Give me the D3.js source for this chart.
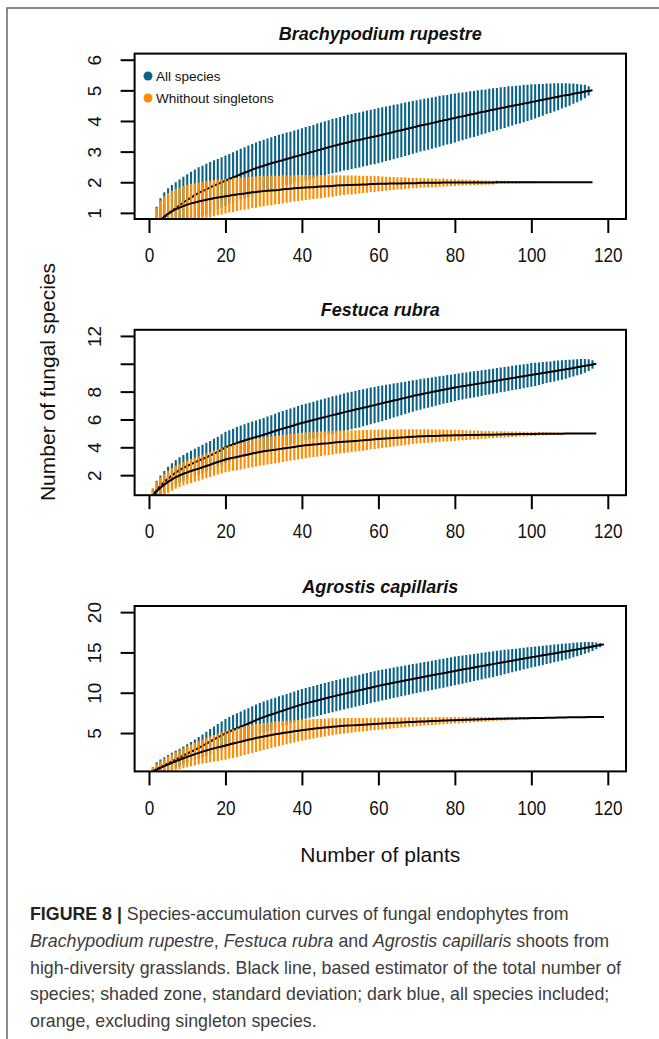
<!DOCTYPE html>
<html lang="en">
<head>
<meta charset="UTF-8">
<title>Species-accumulation curves</title>
<style>
  body { margin: 0; background: #fff; }
  svg { display: block; font-family: "Liberation Sans", Arial, sans-serif; }
</style>
</head>
<body>
<div id="chart"></div>
<script src="https://cdn.jsdelivr.net/npm/d3@7"></script>
<script>
// --- data ---
var panelTitles = ["Brachypodium rupestre", "Festuca rubra", "Agrostis capillaris"];
var seriesNames = ["All species", "Whithout singletons"];
var xTicks = [0, 20, 40, 60, 80, 100, 120];
var xLim = [1, 120];
var yLims = [[1, 6], [1, 12], [1, 20]];
var yTicks = [[1, 2, 3, 4, 5, 6], [2, 4, 6, 8, 10, 12], [5, 10, 15, 20]];
var yTickLabels = [["1", "2", "3", "4", "5", "6"], ["2", "4", "6", "8", "", "12"], ["5", "10", "15", "20"]];

// Brachypodium rupestre, plants 1..116
var brAllMean = [0.25,0.50,0.70,0.85,0.97,1.07,1.16,1.25,1.34,1.42,1.50,1.58,1.65,1.71,1.77,1.83,1.89,1.94,2.00,2.05,
  2.10,2.16,2.21,2.26,2.31,2.36,2.41,2.46,2.50,2.54,2.58,2.62,2.65,2.69,2.72,2.76,2.79,2.83,2.86,2.90,
  2.93,2.97,3.00,3.04,3.07,3.11,3.14,3.18,3.21,3.24,3.27,3.30,3.33,3.36,3.38,3.41,3.44,3.47,3.49,3.52,
  3.55,3.58,3.61,3.64,3.67,3.70,3.73,3.76,3.79,3.82,3.85,3.88,3.90,3.93,3.96,3.99,4.02,4.04,4.07,4.10,
  4.13,4.15,4.18,4.21,4.23,4.26,4.29,4.31,4.34,4.37,4.39,4.42,4.44,4.47,4.49,4.52,4.54,4.57,4.59,4.62,
  4.64,4.67,4.69,4.72,4.74,4.77,4.79,4.82,4.84,4.86,4.89,4.91,4.93,4.96,4.98,5.00];
var brAllSd = [0.45,0.70,0.78,0.82,0.83,0.84,0.84,0.84,0.84,0.84,0.84,0.84,0.84,0.83,0.83,0.83,0.83,0.82,0.82,0.82,
  0.82,0.82,0.83,0.83,0.83,0.84,0.84,0.84,0.85,0.85,0.85,0.85,0.86,0.86,0.86,0.86,0.86,0.86,0.86,0.86,
  0.87,0.87,0.87,0.88,0.88,0.88,0.88,0.89,0.89,0.89,0.89,0.90,0.90,0.90,0.90,0.90,0.90,0.90,0.90,0.90,
  0.90,0.89,0.89,0.89,0.88,0.88,0.87,0.87,0.86,0.86,0.85,0.85,0.84,0.84,0.83,0.83,0.82,0.81,0.81,0.80,
  0.79,0.78,0.77,0.76,0.75,0.74,0.73,0.72,0.71,0.70,0.69,0.68,0.67,0.66,0.64,0.63,0.62,0.61,0.59,0.58,
  0.56,0.54,0.52,0.50,0.48,0.46,0.44,0.41,0.39,0.36,0.33,0.30,0.26,0.22,0.15,0.00];
var brNoSingMean = [0.28,0.55,0.75,0.88,0.97,1.05,1.12,1.17,1.22,1.27,1.31,1.34,1.37,1.40,1.43,1.45,1.48,1.50,1.52,1.54,
  1.56,1.58,1.60,1.62,1.63,1.65,1.67,1.68,1.70,1.71,1.72,1.73,1.74,1.75,1.77,1.78,1.79,1.80,1.81,1.82,
  1.83,1.84,1.84,1.85,1.86,1.87,1.87,1.88,1.89,1.90,1.90,1.91,1.91,1.92,1.92,1.93,1.93,1.94,1.94,1.95,
  1.95,1.95,1.96,1.96,1.96,1.96,1.97,1.97,1.97,1.97,1.98,1.98,1.98,1.98,1.98,1.98,1.99,1.99,1.99,1.99,
  1.99,1.99,1.99,1.99,1.99,1.99,1.99,1.99,1.99,1.99,2.00,2.00,2.00,2.00,2.00,2.00,2.00,2.00,2.00,2.00,
  2.00,2.00,2.00,2.00,2.00,2.00,2.00,2.00,2.00,2.00,2.00,2.00,2.00,2.00,2.00,2.00];
var brNoSingSd = [0.45,0.60,0.65,0.66,0.67,0.67,0.67,0.66,0.66,0.65,0.64,0.63,0.62,0.61,0.60,0.60,0.59,0.58,0.57,0.56,
  0.55,0.55,0.54,0.53,0.53,0.52,0.51,0.51,0.50,0.49,0.48,0.48,0.47,0.46,0.46,0.45,0.44,0.43,0.43,0.42,
  0.41,0.40,0.39,0.38,0.38,0.37,0.36,0.35,0.34,0.33,0.32,0.31,0.31,0.30,0.29,0.28,0.27,0.27,0.26,0.25,
  0.24,0.23,0.22,0.21,0.20,0.20,0.19,0.18,0.17,0.17,0.16,0.15,0.15,0.14,0.14,0.13,0.13,0.12,0.12,0.11,
  0.10,0.10,0.09,0.09,0.08,0.08,0.07,0.07,0.06,0.06,0.06,0.05,0.05,0.05,0.04,0.04,0.04,0.03,0.03,0.03,
  0.03,0.02,0.02,0.02,0.02,0.01,0.01,0.01,0.01,0.01,0.01,0.01,0.00,0.00,0.00,0.00];

// Festuca rubra, plants 1..117
var feAllMean = [0.55,0.95,1.25,1.50,1.75,1.97,2.18,2.37,2.52,2.66,2.79,2.92,3.04,3.16,3.28,3.41,3.54,3.67,3.84,4.00,
  4.10,4.20,4.30,4.40,4.49,4.58,4.66,4.74,4.82,4.90,4.99,5.08,5.17,5.26,5.34,5.42,5.50,5.58,5.67,5.75,
  5.82,5.89,5.96,6.03,6.10,6.17,6.24,6.31,6.38,6.45,6.51,6.58,6.64,6.71,6.77,6.84,6.90,6.97,7.03,7.10,
  7.16,7.23,7.29,7.36,7.42,7.49,7.55,7.62,7.68,7.75,7.80,7.86,7.91,7.97,8.02,8.08,8.13,8.19,8.24,8.30,
  8.34,8.39,8.43,8.48,8.52,8.57,8.61,8.66,8.70,8.75,8.79,8.84,8.88,8.93,8.97,9.02,9.06,9.11,9.15,9.20,
  9.24,9.29,9.33,9.38,9.42,9.47,9.51,9.56,9.60,9.65,9.70,9.75,9.80,9.85,9.90,9.95,10.00];
var feAllSd = [0.50,0.65,0.73,0.80,0.86,0.88,0.90,0.91,0.93,0.95,0.97,0.98,1.00,1.02,1.04,1.05,1.07,1.09,1.10,1.12,
  1.13,1.14,1.15,1.16,1.17,1.18,1.19,1.19,1.20,1.21,1.22,1.23,1.24,1.25,1.26,1.27,1.28,1.28,1.29,1.30,
  1.31,1.31,1.32,1.33,1.33,1.34,1.34,1.35,1.35,1.35,1.35,1.35,1.35,1.34,1.34,1.33,1.32,1.32,1.31,1.30,
  1.28,1.26,1.24,1.22,1.20,1.18,1.16,1.14,1.13,1.11,1.10,1.08,1.07,1.05,1.04,1.02,1.01,1.00,0.98,0.97,
  0.96,0.96,0.95,0.94,0.94,0.93,0.92,0.91,0.91,0.90,0.90,0.89,0.89,0.88,0.88,0.87,0.87,0.86,0.86,0.85,
  0.83,0.81,0.79,0.77,0.75,0.74,0.72,0.70,0.67,0.64,0.61,0.58,0.55,0.50,0.42,0.30,0.00];
var feNoSingMean = [0.50,0.85,1.10,1.32,1.52,1.70,1.85,1.98,2.10,2.20,2.30,2.39,2.47,2.57,2.66,2.75,2.85,2.94,3.03,3.12,
  3.19,3.25,3.31,3.37,3.43,3.49,3.55,3.61,3.67,3.71,3.75,3.79,3.83,3.87,3.91,3.95,3.99,4.03,4.07,4.11,
  4.14,4.17,4.20,4.22,4.25,4.28,4.30,4.33,4.36,4.38,4.40,4.42,4.44,4.46,4.48,4.50,4.53,4.55,4.57,4.59,
  4.61,4.63,4.65,4.67,4.69,4.71,4.72,4.74,4.76,4.77,4.79,4.80,4.81,4.81,4.82,4.83,4.84,4.84,4.85,4.86,
  4.87,4.87,4.88,4.88,4.89,4.89,4.90,4.90,4.91,4.91,4.92,4.92,4.93,4.93,4.94,4.94,4.95,4.95,4.96,4.96,
  4.96,4.97,4.97,4.97,4.98,4.98,4.98,4.98,4.99,4.99,4.99,4.99,5.00,5.00,5.00,5.00,5.00];
var feNoSingSd = [0.50,0.68,0.75,0.78,0.80,0.82,0.83,0.84,0.85,0.85,0.86,0.87,0.88,0.88,0.89,0.89,0.90,0.90,0.91,0.92,
  0.93,0.94,0.95,0.96,0.97,0.98,0.99,0.99,1.00,1.00,0.99,0.99,0.98,0.98,0.97,0.96,0.96,0.95,0.94,0.93,
  0.92,0.91,0.90,0.89,0.88,0.87,0.86,0.84,0.83,0.82,0.80,0.79,0.78,0.76,0.75,0.74,0.72,0.71,0.69,0.68,
  0.66,0.64,0.63,0.61,0.59,0.58,0.56,0.55,0.53,0.52,0.50,0.49,0.48,0.47,0.46,0.45,0.43,0.42,0.41,0.40,
  0.38,0.37,0.35,0.34,0.32,0.31,0.29,0.28,0.26,0.25,0.24,0.23,0.22,0.21,0.20,0.19,0.18,0.17,0.16,0.15,
  0.14,0.13,0.12,0.11,0.10,0.09,0.08,0.07,0.06,0.05,0.04,0.04,0.03,0.02,0.01,0.01,0.00];

// Agrostis capillaris, plants 1..119
var agAllMean = [0.27,0.52,0.76,1.00,1.24,1.48,1.72,1.96,2.20,2.44,2.68,2.92,3.16,3.42,3.68,3.94,4.20,4.45,4.70,4.96,
  5.17,5.38,5.58,5.78,5.98,6.18,6.39,6.60,6.80,6.97,7.14,7.30,7.46,7.62,7.77,7.93,8.09,8.24,8.40,8.55,
  8.68,8.80,8.92,9.04,9.16,9.28,9.40,9.52,9.64,9.75,9.86,9.97,10.08,10.19,10.30,10.41,10.52,10.63,10.74,10.85,
  10.95,11.04,11.14,11.23,11.33,11.42,11.52,11.61,11.71,11.80,11.89,11.98,12.07,12.16,12.25,12.34,12.43,12.52,12.61,12.70,
  12.79,12.87,12.96,13.04,13.13,13.21,13.30,13.38,13.47,13.55,13.64,13.72,13.81,13.89,13.98,14.06,14.15,14.23,14.32,14.40,
  14.48,14.56,14.64,14.72,14.80,14.88,14.96,15.04,15.12,15.20,15.29,15.38,15.47,15.56,15.64,15.73,15.82,15.91,16.00];
var agAllSd = [0.50,0.85,0.95,1.00,1.04,1.06,1.08,1.10,1.13,1.17,1.22,1.28,1.34,1.41,1.48,1.55,1.62,1.68,1.74,1.79,
  1.82,1.85,1.87,1.89,1.90,1.91,1.92,1.93,1.94,1.94,1.94,1.94,1.93,1.93,1.92,1.92,1.91,1.91,1.90,1.90,
  1.90,1.91,1.91,1.92,1.92,1.92,1.93,1.93,1.93,1.93,1.93,1.93,1.93,1.93,1.93,1.93,1.93,1.93,1.93,1.93,
  1.92,1.91,1.90,1.89,1.88,1.87,1.86,1.85,1.84,1.83,1.83,1.82,1.82,1.81,1.81,1.80,1.80,1.79,1.79,1.78,
  1.76,1.75,1.73,1.71,1.69,1.67,1.65,1.63,1.62,1.60,1.57,1.54,1.51,1.47,1.44,1.41,1.38,1.35,1.31,1.28,
  1.25,1.22,1.19,1.16,1.13,1.10,1.07,1.03,0.99,0.95,0.90,0.85,0.79,0.72,0.64,0.55,0.42,0.26,0.00];
var agNoSingMean = [0.24,0.46,0.68,0.89,1.10,1.30,1.50,1.69,1.87,2.05,2.22,2.38,2.54,2.69,2.83,2.97,3.10,3.22,3.34,3.45,
  3.57,3.69,3.81,3.93,4.05,4.16,4.27,4.38,4.48,4.57,4.66,4.75,4.84,4.92,5.00,5.07,5.14,5.21,5.28,5.35,
  5.41,5.47,5.53,5.58,5.63,5.68,5.73,5.78,5.82,5.86,5.89,5.92,5.95,5.98,6.01,6.04,6.07,6.10,6.13,6.16,
  6.18,6.21,6.23,6.26,6.28,6.31,6.33,6.36,6.38,6.40,6.42,6.44,6.46,6.48,6.50,6.52,6.54,6.56,6.58,6.60,
  6.61,6.63,6.64,6.66,6.67,6.69,6.70,6.72,6.73,6.75,6.76,6.77,6.78,6.79,6.80,6.81,6.82,6.83,6.84,6.85,
  6.86,6.87,6.88,6.89,6.90,6.91,6.92,6.93,6.94,6.95,6.96,6.96,6.97,6.97,6.98,6.98,6.99,6.99,7.00];
var agNoSingSd = [0.45,0.70,0.85,0.94,1.00,1.06,1.12,1.18,1.24,1.30,1.35,1.40,1.45,1.50,1.55,1.60,1.64,1.68,1.72,1.75,
  1.77,1.78,1.79,1.79,1.78,1.77,1.75,1.73,1.70,1.67,1.63,1.60,1.56,1.53,1.49,1.45,1.41,1.37,1.34,1.30,
  1.27,1.23,1.20,1.16,1.13,1.10,1.07,1.04,1.00,0.98,0.96,0.93,0.91,0.89,0.86,0.84,0.82,0.79,0.77,0.75,
  0.73,0.71,0.69,0.67,0.65,0.63,0.61,0.59,0.57,0.56,0.54,0.52,0.51,0.49,0.48,0.46,0.45,0.43,0.42,0.40,
  0.39,0.37,0.36,0.34,0.33,0.31,0.30,0.28,0.27,0.25,0.24,0.23,0.22,0.21,0.20,0.19,0.18,0.17,0.16,0.15,
  0.14,0.13,0.12,0.11,0.10,0.09,0.08,0.07,0.07,0.06,0.05,0.04,0.03,0.03,0.02,0.01,0.01,0.00,0.00];

var panelMeans = [[brAllMean, brNoSingMean], [feAllMean, feNoSingMean], [agAllMean, agNoSingMean]];
var panelSds = [[brAllSd, brNoSingSd], [feAllSd, feNoSingSd], [agAllSd, agNoSingSd]];

var captionLines = [
  [{ t: "FIGURE 8 |", w: "bold" }, { t: " Species-accumulation curves of fungal endophytes from" }],
  [{ t: "Brachypodium rupestre", i: true }, { t: ", " }, { t: "Festuca rubra", i: true }, { t: " and " },
   { t: "Agrostis capillaris", i: true }, { t: " shoots from" }],
  [{ t: "high-diversity grasslands. Black line, based estimator of the total number of" }],
  [{ t: "species; shaded zone, standard deviation; dark blue, all species included;" }],
  [{ t: "orange, excluding singleton species." }]
];

// --- layout ---
var W = 659, H = 1039;
var colors = ["#0b6488", "#ff8c00"];
var box = { left: 134.6, right: 626, top: 53.6, height: 165.4, step: 276.2 };
var pad = function (lim) { var r = lim[1] - lim[0]; return [lim[0] - 0.04 * r, lim[1] + 0.04 * r]; };

var svg = d3.select("#chart").append("svg")
  .attr("width", W).attr("height", H);

svg.append("rect").attr("width", W).attr("height", H).attr("fill", "#fff");

// outer frame (top and left edges visible)
svg.append("rect")
  .attr("x", 7).attr("y", 8).attr("width", W + 20).attr("height", H + 20)
  .attr("fill", "none").attr("stroke", "#666").attr("stroke-width", 1.5);

var x = d3.scaleLinear().domain(pad(xLim)).range([box.left, box.right]);

panelTitles.forEach(function (title, p) {
  var top = box.top + p * box.step;
  var bottom = top + box.height;
  var y = d3.scaleLinear().domain(pad(yLims[p])).range([bottom, top]);
  var g = svg.append("g");

  var clipId = "clip" + p;
  svg.append("clipPath").attr("id", clipId)
    .append("rect").attr("x", box.left).attr("y", top)
    .attr("width", box.right - box.left).attr("height", box.height);

  var plot = g.append("g").attr("clip-path", "url(#" + clipId + ")");

  [0, 1].forEach(function (s) {
    var means = panelMeans[p][s], sds = panelSds[p][s];
    var pts = means.map(function (m, i) { return { n: i + 1, m: m, sd: sds[i] }; });

    plot.append("g").selectAll("line")
      .data(pts.filter(function (d) { return d.sd > 0; }))
      .enter().append("line")
      .attr("x1", function (d) { return x(d.n); })
      .attr("x2", function (d) { return x(d.n); })
      .attr("y1", function (d) { return y(d.m - d.sd); })
      .attr("y2", function (d) { return y(d.m + d.sd); })
      .attr("stroke", colors[s]).attr("stroke-width", 2.1);

    plot.append("path")
      .datum(pts)
      .attr("d", d3.line().x(function (d) { return x(d.n); }).y(function (d) { return y(d.m); }))
      .attr("fill", "none").attr("stroke", "#000").attr("stroke-width", 2);
  });

  // box
  g.append("rect")
    .attr("x", box.left).attr("y", top)
    .attr("width", box.right - box.left).attr("height", box.height)
    .attr("fill", "none").attr("stroke", "#000").attr("stroke-width", 2);

  // x axis
  var xa = g.append("g").attr("transform", "translate(0," + bottom + ")")
    .call(d3.axisBottom(x).tickValues(xTicks).tickSize(14).tickPadding(15));
  xa.select(".domain").remove();
  xa.selectAll(".tick line").attr("stroke-width", 2);
  xa.selectAll(".tick text").attr("font-size", 20).attr("fill", "#111")
    .attr("font-family", "Liberation Sans, Arial, sans-serif")
    .attr("transform", "scale(0.86,1)");

  // y axis
  var labels = yTickLabels[p];
  var ya = g.append("g").attr("transform", "translate(" + box.left + ",0)")
    .call(d3.axisLeft(y).tickValues(yTicks[p]).tickSize(14)
      .tickFormat(function (d, i) { return labels[i]; }));
  ya.select(".domain").remove();
  ya.selectAll(".tick line").attr("stroke-width", 2);
  ya.selectAll(".tick text")
    .attr("x", null).attr("dy", null)
    .attr("text-anchor", "middle")
    .attr("transform", "translate(-34,0) rotate(-90)")
    .attr("font-size", 19).attr("fill", "#111")
    .attr("font-family", "Liberation Sans, Arial, sans-serif");

  // panel title
  g.append("text")
    .attr("x", (box.left + box.right) / 2).attr("y", top - 13.5)
    .attr("text-anchor", "middle")
    .attr("font-size", 18).attr("font-weight", "bold").attr("font-style", "italic")
    .attr("fill", "#111")
    .text(title);

  // legend in first panel
  if (p === 0) {
    seriesNames.forEach(function (name, s) {
      var ly = 76 + s * 22;
      g.append("circle").attr("cx", 148).attr("cy", ly).attr("r", 4.5).attr("fill", colors[s]);
      g.append("text").attr("x", 156).attr("y", ly + 5)
        .attr("font-size", 13.5).attr("fill", "#111").text(name);
    });
  }
});

// axis titles
svg.append("text")
  .attr("x", (box.left + box.right) / 2).attr("y", 862)
  .attr("text-anchor", "middle").attr("font-size", 21).attr("fill", "#111")
  .text("Number of plants");

svg.append("text")
  .attr("transform", "translate(55,382) rotate(-90)")
  .attr("text-anchor", "middle").attr("font-size", 21).attr("fill", "#111")
  .text("Number of fungal species");

// caption
var cap = svg.append("g").attr("font-size", 17.8).attr("fill", "#3c3c3c");
captionLines.forEach(function (line, k) {
  var t = cap.append("text").attr("x", 30).attr("y", 920 + k * 26.8);
  line.forEach(function (seg) {
    t.append("tspan")
      .attr("font-weight", seg.w || null)
      .attr("font-style", seg.i ? "italic" : null)
      .attr("fill", seg.w ? "#222" : null)
      .text(seg.t);
  });
});
</script>
</body>
</html>
